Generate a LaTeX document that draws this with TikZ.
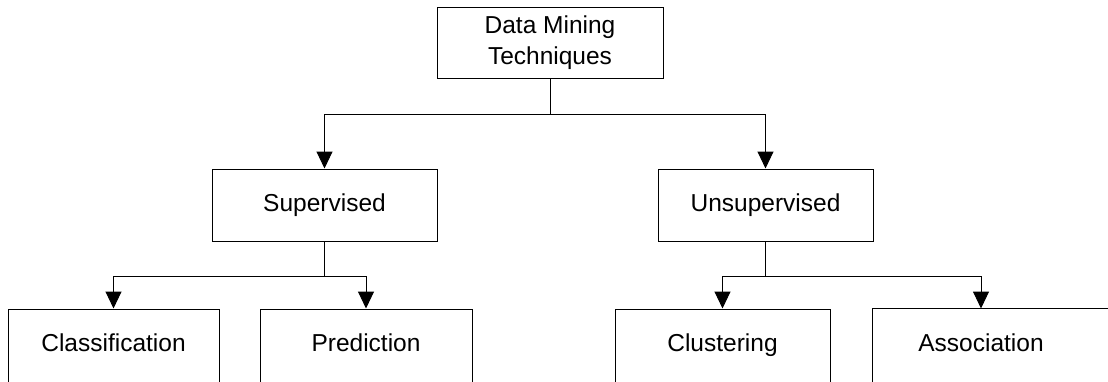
\documentclass[tikz,border=0pt]{standalone}
\usepackage{fontspec}
\setmainfont{Liberation Sans}
\usetikzlibrary{arrows.meta}
\tikzset{
    blk/.style={draw, line width=1pt, minimum height=72pt, inner sep=0pt, align=center,
        font=\fontsize{24.5}{30.5}\selectfont},
    mid/.style={blk, text height=18pt, text depth=5pt},
    leaf/.style={blk, minimum height=90pt, text height=18pt, text depth=23pt},
    arr/.style={line width=1pt, -{Triangle[width=16pt,length=17pt]}}
}
\begin{document}
\begin{tikzpicture}[x=1pt,y=-1pt]
\useasboundingbox (0,0) rectangle (1108,381);
\node[blk, minimum width=226pt, minimum height=71pt] (root) at (550,42.5) {Data Mining\\Techniques};

\foreach \n/\x/\w/\t in {sup/324.5/225/Supervised, unsup/765.5/215/Unsupervised}
{
    \node[mid, minimum width=\w pt] (\n) at (\x,205) {\t};
}
\foreach \n/\x/\w/\t in {cls/113.5/211/Classification, pred/366/212/Prediction, clu/722.5/215/Clustering}
{
    \node[leaf, minimum width=\w pt] (\n) at (\x,354) {\t};
}
% last box runs off the right edge
\node[leaf, draw=none, minimum width=216pt] (assoc) at (981,354) {Association};
\draw[line width=1pt] (assoc.north west) rectangle ++(280,90);

\coordinate (j0) at (550,114);
\coordinate (j1) at (324.5,276);
\coordinate (j2) at (765.5,276);
\draw[line width=1pt] (root.south)--(j0);
\draw[line width=1pt] (sup.south)--(j1);
\draw[line width=1pt] (unsup.south)--(j2);
\foreach \a/\b in {j0/sup, j0/unsup, j1/cls, j1/pred, j2/clu, j2/assoc}
{
    \draw[arr] (\a) -| (\b.north);
}
\end{tikzpicture}
\end{document}
